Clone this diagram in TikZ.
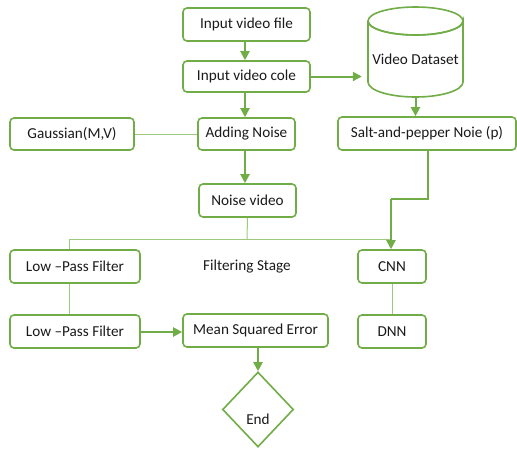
\documentclass[tikz,border=0pt]{standalone}
\usepackage{fontspec}
\setmainfont{Carlito}
\usetikzlibrary{arrows.meta,shapes.geometric}
\definecolor{gr}{HTML}{70AD47}
\definecolor{lgr}{HTML}{9CC97E}
\definecolor{tx}{HTML}{1A1A1A}
\begin{document}
\begin{tikzpicture}[x=1pt,y=-1pt,
  lbl/.style={text=tx,font=\fontsize{15.2}{17}\selectfont},
  box/.style={lbl,draw=gr,line width=1.6pt,rounded corners=4pt,fill=white,inner sep=0pt},
  arr/.style={draw=gr,line width=2pt,-{Triangle[length=9pt,width=9pt]}},
  thin/.style={draw=lgr,line width=1pt}]
\useasboundingbox (0,0) rectangle (517,448);
\node[box,minimum width=127pt,minimum height=33pt] (f1) at (246.5,24.5) {Input video file};
\node[box,minimum width=127pt,minimum height=31pt] (f2) at (246.5,76.5) {Input video cole};
% cylinder
\draw[gr,line width=1.6pt,fill=white] (368,21) -- (368,82) arc[start angle=180,end angle=360,x radius=47.5pt,y radius=15pt] -- (463,21) arc[start angle=0,end angle=-360,x radius=47.5pt,y radius=14pt];
\draw[gr,line width=1.6pt] (368,21) arc[start angle=180,end angle=360,x radius=47.5pt,y radius=14pt];
\node[inner sep=0pt,minimum width=95pt,minimum height=90pt] (ds) at (415.5,52) {};
\node[lbl] (dst) at (415.5,59) {Video Dataset};
\node[box,minimum width=178pt,minimum height=33pt] (sp) at (427,133.5) {Salt-and-pepper Noie (p)};
\node[box,minimum width=124pt,minimum height=32pt] (g) at (72,134) {Gaussian(M,V)};
\node[box,minimum width=97pt,minimum height=32pt] (an) at (246.5,134) {Adding Noise};
\node[box,minimum width=97pt,minimum height=33pt] (nv) at (247.5,200.5) {Noise video};
\node[box,minimum width=130pt,minimum height=33pt] (lp1) at (75,266.5) {Low \textendash Pass Filter};
\node[lbl] (fs) at (247,267) {Filtering Stage};
\node[box,minimum width=68pt,minimum height=33pt] (cnn) at (392,266.5) {CNN};
\node[box,minimum width=130pt,minimum height=33pt] (lp2) at (75,331.5) {Low \textendash Pass Filter};
\node[box,minimum width=145pt,minimum height=33pt] (mse) at (255.5,330.5) {Mean Squared Error};
\node[box,minimum width=68pt,minimum height=33pt] (dnn) at (392,331.5) {DNN};
\node[draw=gr,line width=1.6pt,fill=white,shape=diamond,inner sep=0pt,minimum width=71pt,minimum height=75pt] (en) at (258,409.5) {};
\node[lbl] (ent) at (258,419) {End};
% connectors
\coordinate (j1) at (247,239);
\coordinate (jl) at (69,239);
\coordinate (jr) at (391,239);
\coordinate (s1) at (428,199);
\coordinate (s2) at (391,199);
\draw[arr] (f1.south -| 245,0) -- (f2.north -| 245,0);
\draw[arr] (f2.east) -- ([xshift=-6pt]ds.west |- f2.east);
\draw[arr] (f2.south -| 245,0) -- (an.north -| 245,0);
\draw[arr] (ds.south) -- (ds.south |- sp.north);
\draw[thin] (g.east) -- (an.west);
\draw[arr] (an.south -| 245,0) -- (nv.north -| 245,0);
\draw[thin] (nv.south) -- (j1);
\draw[thin] (jl) -- (jr);
\draw[thin] (jl) -- (jl |- lp1.north);
\draw[gr,line width=2pt] (sp.south -| s1) -- (s1) -- (s2);
\draw[arr] (s2) -- (s2 |- cnn.north);
\draw[thin] (lp1.south -| jl) -- (lp2.north -| jl);
\draw[thin] (cnn.south) -- (dnn.north);
\draw[arr] (lp2.east |- 0,332) -- (mse.west |- 0,332);
\draw[arr] (mse.south -| en.north) -- (en.north);
\end{tikzpicture}
\end{document}
